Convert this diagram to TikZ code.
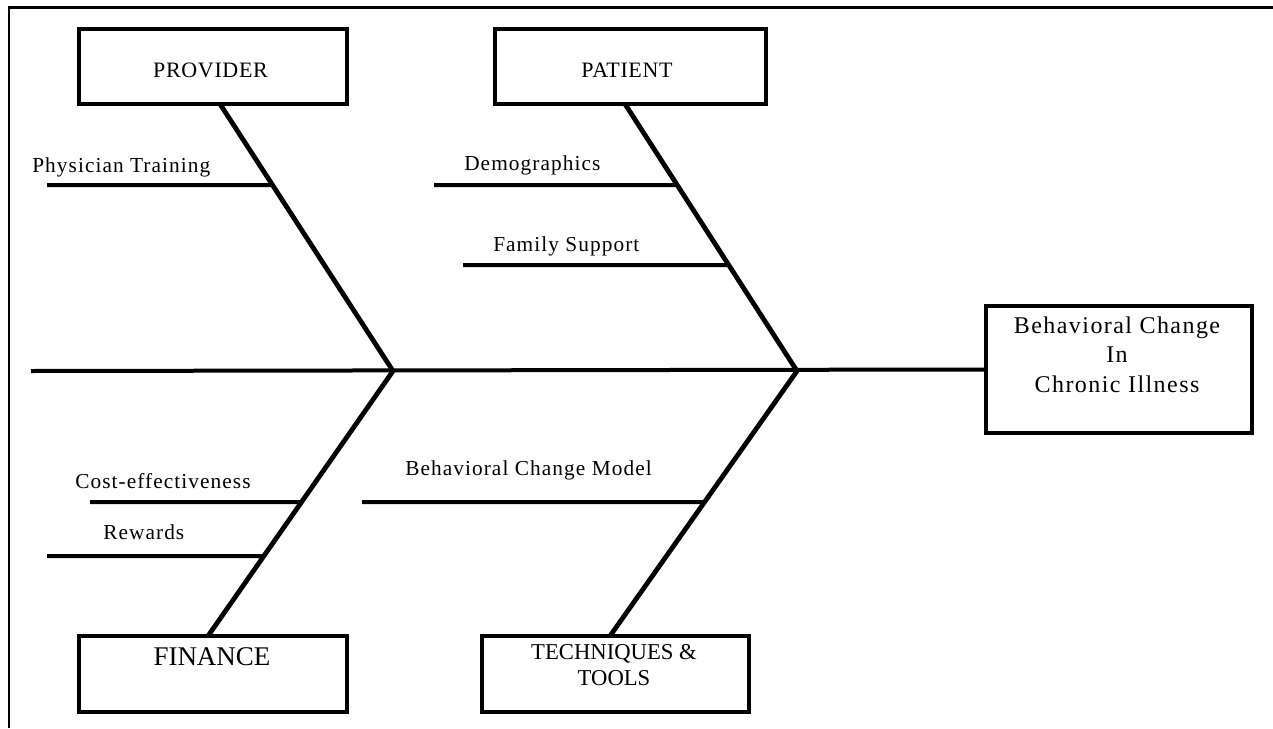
\documentclass[tikz,border=0pt]{standalone}
\usepackage{fontspec}
\setmainfont{Liberation Serif}
\begin{document}
\begin{tikzpicture}[x=0.75pt,y=-0.75pt,
  box/.style={draw, line width=3pt, rectangle, inner sep=0pt},
  bone/.style={line width=3.6pt},
  rib/.style={line width=3pt},
  lbl/.style={anchor=base west, inner sep=0pt, font=\fontsize{16}{19}\selectfont\addfontfeatures{LetterSpace=5}},
  boxtxt/.style={anchor=base, inner sep=0pt},
]
\useasboundingbox (0,0) rectangle (1273,728);
% frame (only top and left edges visible)
\draw[line width=2pt] (9,728) -- (9,7.5) -- (1273,7.5);

% boxes
\node[box, minimum width=201pt, minimum height=56.25pt] (prov) at (213,66.5) {};
\node[box, minimum width=203.25pt, minimum height=56.25pt] (pat) at (630.5,66.5) {};
\node[box, minimum width=201pt, minimum height=57pt] (fin) at (213,674) {};
\node[box, minimum width=200.25pt, minimum height=57pt] (tech) at (615.5,674) {};
\node[box, minimum width=199.5pt, minimum height=95.25pt] (eff) at (1119,369.5) {};

% box texts
\node[boxtxt, font=\fontsize{16.5}{19}\selectfont\addfontfeatures{LetterSpace=3}] (provt) at (210.5,77) {PROVIDER};
\node[boxtxt, font=\fontsize{16.5}{19}\selectfont\addfontfeatures{LetterSpace=3}] (patt) at (627,77) {PATIENT};
\node[boxtxt, font=\fontsize{20.25}{24}\selectfont] (fint) at (212,665) {FINANCE};
\node[boxtxt, align=center, font=\fontsize{17}{19.5}\selectfont] (techt) at (614,685) {TECHNIQUES \&\\TOOLS};
\node[boxtxt, align=center, font=\fontsize{18}{22.1}\selectfont\addfontfeatures{LetterSpace=6}] (efft) at (1117,392) {Behavioral Change\\In\\Chronic Illness};

% coordinates
\coordinate (tail) at (31,371);
\coordinate (j1) at (393,371);
\coordinate (j2) at (797,371);
\coordinate (pa) at (220,104);
\coordinate (pb) at (625,104);
\coordinate (fa) at (208,636);
\coordinate (ta) at (610,636);

% spine
\draw[rib] (tail) -- (eff.west);
% main bones
\draw[bone] (pa) -- (j1);
\draw[bone] (fa) -- (j1);
\draw[bone] (pb) -- (j2);
\draw[bone] (ta) -- (j2);

% ribs
\coordinate (r1) at (47,185);
\coordinate (r2) at (434,185);
\coordinate (r3) at (463,265);
\coordinate (r4) at (90,502);
\coordinate (r5) at (47,556);
\coordinate (r6) at (362,502);
\draw[rib] (r1) -- (intersection of pa--j1 and r1--{(1000,185)});
\draw[rib] (r2) -- (intersection of pb--j2 and r2--{(1000,185)});
\draw[rib] (r3) -- (intersection of pb--j2 and r3--{(1000,265)});
\draw[rib] (r4) -- (intersection of fa--j1 and r4--{(1000,502)});
\draw[rib] (r5) -- (intersection of fa--j1 and r5--{(1000,556)});
\draw[rib] (r6) -- (intersection of ta--j2 and r6--{(1000,502)});

% labels
\node[lbl] (l1) at (32,172) {Physician Training};
\node[lbl] (l2) at (464,170) {Demographics};
\node[lbl] (l3) at (493,251) {Family Support};
\node[lbl] (l4) at (75,488) {Cost-effectiveness};
\node[lbl] (l5) at (103,539) {Rewards};
\node[lbl] (l6) at (405,475) {Behavioral Change Model};
\end{tikzpicture}
\end{document}
